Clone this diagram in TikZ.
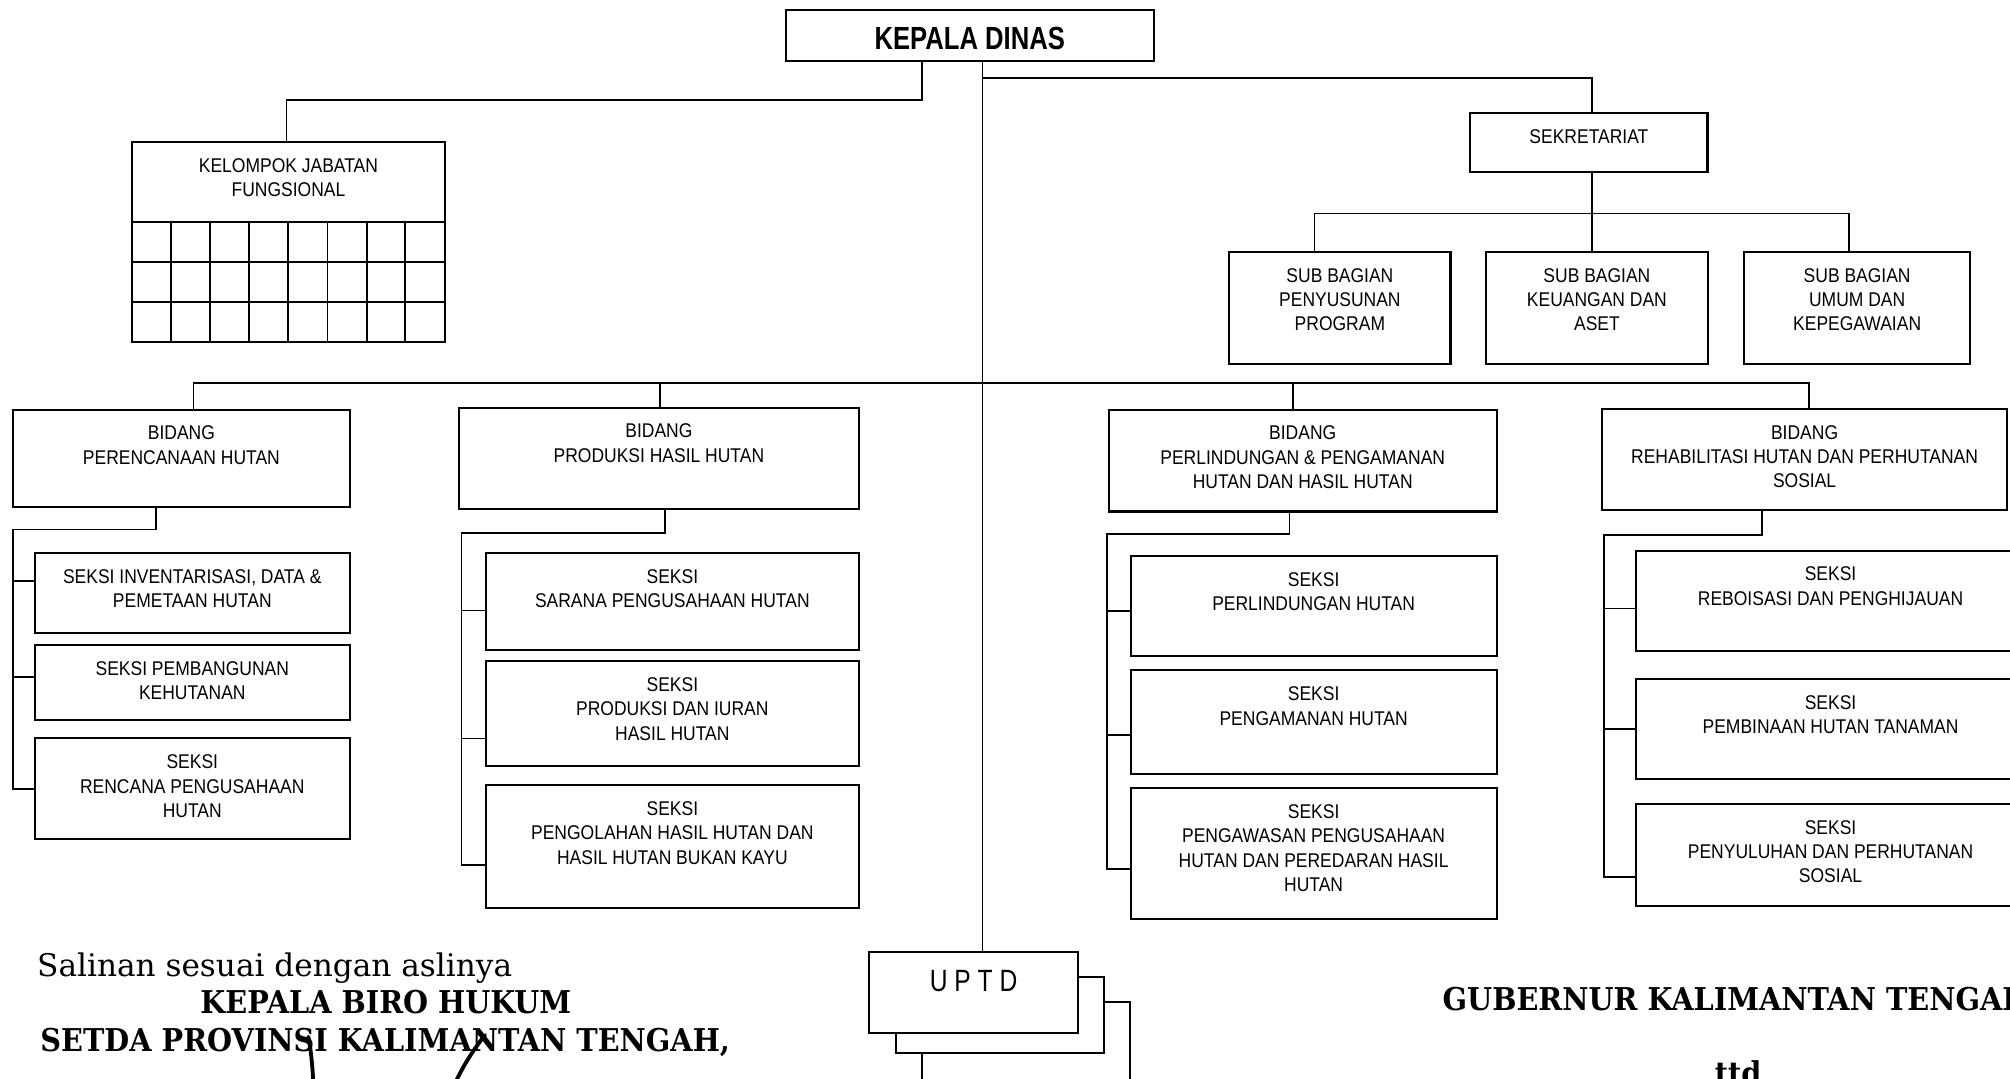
\documentclass[tikz,border=0pt]{standalone}
\usepackage{fontspec}
\setmainfont{Liberation Sans}[FakeStretch=0.88]
\newfontfamily\headfont{Liberation Sans}[FakeStretch=0.8]
\newfontfamily\sigfont{DejaVu Serif}
\newfontfamily\sigbold{DejaVu Serif}[FakeStretch=0.915]
\usetikzlibrary{fit}
\newcommand\unitfont{\fontsize{15.5}{19}\selectfont}
% a framed unit: name, top-left corner, bottom-right corner, caption
\newcommand\orgunit[4]{%
  \node[box, fit={#2 #3}] (#1) {};
  \node[lbl] (#1-t) at ([yshift=-12.8pt]#1.north) {#4};}
\begin{document}
\begin{tikzpicture}[x=1pt,y=-1pt,
  box/.style={draw,line width=1.6pt,fill=white,inner sep=0pt,outer sep=0pt},
  lbl/.style={inner sep=0pt,outer sep=0pt,align=center,anchor=north,font=\unitfont},
  wire/.style={line width=1.35pt},
  sig/.style={line width=3pt,line cap=round},
  foot/.style={inner sep=0pt,outer sep=0pt}]
\clip (0,0) rectangle (1568,841);
\fill[white] (0,0) rectangle (1568,841);

% ---- head of office
\node[box, fit={(613,8) (900,47.5)}] (kd) {};
\node[inner sep=0pt, anchor=north, font=\headfont\bfseries\fontsize{25}{30}\selectfont]
  (kd-t) at ([yshift=-12.8pt]kd.north) {KEPALA DINAS};

% ---- functional group with its grid
\orgunit{kjf}{(103,111)}{(347,266.5)}{KELOMPOK JABATAN\\FUNGSIONAL}
\foreach \y in {173,204.6,235.8}
  \draw[line width=1.6pt] (103,\y) -- (347,\y);
\foreach \x in {133.5,164,194,225,255.5,286,316}
  \draw[line width=1.5pt] (\x,173) -- (\x,266.5);

% ---- secretariat
\orgunit{sek}{(1147,88.4)}{(1332,134)}{SEKRETARIAT}
\orgunit{sb1}{(959,196.5)}{(1131.5,284)}{SUB BAGIAN\\PENYUSUNAN\\PROGRAM}
\orgunit{sb2}{(1159,196.5)}{(1332.5,284)}{SUB BAGIAN\\KEUANGAN DAN\\ASET}
\orgunit{sb3}{(1360.5,196.5)}{(1537,284)}{SUB BAGIAN\\UMUM DAN\\KEPEGAWAIAN}

% ---- divisions
\orgunit{bd1}{(10,319.5)}{(273,395.4)}{BIDANG\\PERENCANAAN HUTAN}
\orgunit{bd2}{(358,318)}{(670,397)}{BIDANG\\PRODUKSI HASIL HUTAN}
\orgunit{bd3}{(865,319.5)}{(1167.5,399)}{BIDANG\\PERLINDUNGAN \& PENGAMANAN\\HUTAN DAN HASIL HUTAN}
\orgunit{bd4}{(1249.5,319)}{(1566,398)}{BIDANG\\REHABILITASI HUTAN DAN PERHUTANAN\\SOSIAL}

% ---- sections
\orgunit{s11}{(27,431.5)}{(273,493.6)}{SEKSI INVENTARISASI, DATA \&\\PEMETAAN HUTAN}
\orgunit{s12}{(27,503)}{(273,561.7)}{SEKSI PEMBANGUNAN\\KEHUTANAN}
\orgunit{s13}{(27,576)}{(273,654.7)}{SEKSI\\RENCANA PENGUSAHAAN\\HUTAN}

\orgunit{s21}{(379,431.5)}{(670,506.7)}{SEKSI\\SARANA PENGUSAHAAN HUTAN}
\orgunit{s22}{(379,515.7)}{(670,597.9)}{SEKSI\\PRODUKSI DAN IURAN\\HASIL HUTAN}
\orgunit{s23}{(379,612.4)}{(670,708.6)}{SEKSI\\PENGOLAHAN HASIL HUTAN DAN\\HASIL HUTAN BUKAN KAYU}

\orgunit{s31}{(882,433.7)}{(1167.5,511.6)}{SEKSI\\PERLINDUNGAN HUTAN}
\orgunit{s32}{(882,523)}{(1167.5,604)}{SEKSI\\PENGAMANAN HUTAN}
\orgunit{s33}{(882,614.8)}{(1167.5,717)}{SEKSI\\PENGAWASAN PENGUSAHAAN\\HUTAN DAN PEREDARAN HASIL\\HUTAN}

\orgunit{s41}{(1276,429.5)}{(1580,508)}{SEKSI\\REBOISASI DAN PENGHIJAUAN}
\orgunit{s42}{(1276,529.5)}{(1580,607.4)}{SEKSI\\PEMBINAAN HUTAN TANAMAN}
\orgunit{s43}{(1276,627)}{(1580,706.8)}{SEKSI\\PENYULUHAN DAN PERHUTANAN\\SOSIAL}

% ---- technical units (stacked)
\node[box, fit={(719,781.7) (881.5,900)}] (up3) {};
\node[box, fit={(699,762) (861,821.6)}] (up2) {};
\node[box, fit={(678,742.6) (841,806)}] (upt) {};
\node[inner sep=0pt, anchor=north, font=\headfont\fontsize{24}{28}\selectfont]
  (upt-t) at ([yshift=-14.1pt]upt.north) {U P T D};

% ---- connectors from the head
\coordinate (ka) at (719,78);
\coordinate (kb) at (223.5,78);
\draw[wire] (ka |- kd.south) -- (ka) -- (kb) -- (kb |- kjf.north);
\coordinate (kc) at (766.5,61);
\coordinate (sj) at (1242,166.5);
\draw[wire] (kc |- kd.south) -- (kc) -- (sj |- kc) -- (sj |- sek.north);
\draw[wire] (kc) -- (kc |- upt.north);

% secretariat to sub-sections
\coordinate (sa) at (1025.5,166.5);
\coordinate (sc) at (1442.5,166.5);
\draw[wire] (sj |- sek.south) -- (sj |- sb2.north);
\draw[wire] (sa |- sb1.north) -- (sa) -- (sc) -- (sc |- sb3.north);

% bar over the divisions
\coordinate (b1) at (151,299);
\coordinate (b2) at (515,299);
\coordinate (b3) at (1008.5,299);
\coordinate (b4) at (1411,299);
\draw[wire] (b1 |- bd1.north) -- (b1) -- (b4) -- (b4 |- bd4.north);
\draw[wire] (b2) -- (b2 |- bd2.north);
\draw[wire] (b3) -- (b3 |- bd3.north);

% division 1
\coordinate (t1) at (121.5,413);
\coordinate (r1) at (10,413);
\draw[wire] (t1 |- bd1.south) -- (t1) -- (r1) |- (s13.west);
\draw[wire] ([yshift=9.55pt]s11.west) -- +(-17,0);
\draw[wire] ([yshift=4.35pt]s12.west) -- +(-17,0);

% division 2
\coordinate (t2) at (519,415.8);
\coordinate (r2) at (360,415.8);
\draw[wire] (t2 |- bd2.south) -- (t2) -- (r2) |- ([yshift=-14pt]s23.west);
\draw[wire] ([yshift=-7.2pt]s21.west) -- +(-19,0);
\draw[wire] ([yshift=-19.2pt]s22.west) -- +(-19,0);

% division 3
\coordinate (t3) at (1006,416.6);
\coordinate (r3) at (863.6,416.6);
\draw[wire] (t3 |- bd3.south) -- (t3) -- (r3) |- ([yshift=-11.9pt]s33.west);
\draw[wire] ([yshift=-4.05pt]s31.west) -- +(-18.4,0);
\draw[wire] ([yshift=-9.7pt]s32.west) -- +(-18.4,0);

% division 4
\coordinate (t4) at (1374.6,417.3);
\coordinate (r4) at (1251,417.3);
\draw[wire] (t4 |- bd4.south) -- (t4) -- (r4) |- ([yshift=-17.1pt]s43.west);
\draw[wire] ([yshift=-5.95pt]s41.west) -- +(-25,0);
\draw[wire] ([yshift=-0.35pt]s42.west) -- +(-25,0);

% ---- certification and signatures
\node[foot, anchor=base west, font=\sigfont\fontsize{24.3}{28}\selectfont]
  (sal) at (29,761.4) {Salinan sesuai dengan aslinya};
\node[foot, anchor=base, font=\sigbold\bfseries\fontsize{24.5}{28}\selectfont]
  (kbh) at (301,791) {KEPALA BIRO HUKUM};
\node[foot, anchor=base, font=\sigbold\bfseries\fontsize{24.5}{28}\selectfont]
  (setda) at (300.5,820.4) {SETDA PROVINSI KALIMANTAN TENGAH,};
\node[foot, anchor=base west, font=\sigbold\bfseries\fontsize{24.5}{28}\selectfont]
  (gub) at (1125.4,788) {GUBERNUR KALIMANTAN TENGAH};
\node[foot, anchor=base, font=\sigbold\bfseries\fontsize{24.5}{28}\selectfont]
  (ttd) at (1356,846) {ttd};

\draw[sig] (240.5,808.7) .. controls (242,815) and (243.5,828) .. (244.5,845);
\draw[sig] (378.4,807.4) .. controls (370,818) and (362,830) .. (355,845);
\end{tikzpicture}
\end{document}
